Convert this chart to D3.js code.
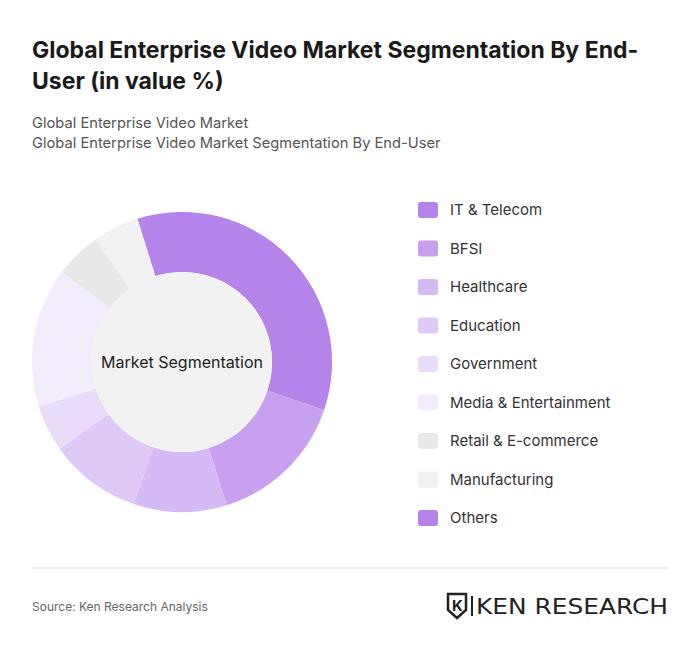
<!DOCTYPE html><html><head><meta charset="utf-8"><script src="https://cdn.jsdelivr.net/npm/d3@7"></script>
<style>body{margin:0;background:#fff;font-family:Inter,"Noto Sans",sans-serif}</style></head><body><svg id="c" width="700" height="653"></svg>
<script>
const categories=["IT & Telecom","BFSI","Healthcare","Education","Government","Media & Entertainment","Retail & E-commerce","Manufacturing","Others"];
const values=[35,15,10,10,5,15,5,5,0];
const colors=["#b584ea","#c7a0f0","#d5baf5","#dfcaf7","#e9dcfa","#f3ecfc","#e8e8e8","#f2f2f2","#b584ea"];
const svg=d3.select("#c");
svg.append("text").attr("x",32).attr("y",58).attr("font-size",23).attr("font-weight",700).attr("fill","#1a1a1a").text("Global Enterprise Video Market Segmentation By End-");
svg.append("text").attr("x",32).attr("y",89).attr("font-size",23).attr("font-weight",700).attr("fill","#1a1a1a").text("User (in value %)");
svg.append("text").attr("x",32).attr("y",128).attr("font-size",14.7).attr("fill","#555").text("Global Enterprise Video Market");
svg.append("text").attr("x",32).attr("y",148).attr("font-size",14.7).attr("fill","#555").text("Global Enterprise Video Market Segmentation By End-User");
const g=svg.append("g").attr("transform","translate(182,362)");
const pie=d3.pie().sort(null).startAngle(-17.3*Math.PI/180).endAngle(2*Math.PI-17.3*Math.PI/180);
const arc=d3.arc().innerRadius(90).outerRadius(150);
g.selectAll("path").data(pie(values)).join("path").attr("d",arc).attr("fill",(d,i)=>colors[i]);
g.append("circle").attr("r",90).attr("fill","#f2f2f2");
g.append("text").attr("text-anchor","middle").attr("dy",6).attr("font-size",16).attr("fill","#222").text("Market Segmentation");
const lg=svg.append("g");
categories.forEach((c,i)=>{const y=210+i*38.5;
lg.append("rect").attr("x",418).attr("y",y-8).attr("width",20).attr("height",16).attr("rx",3).attr("fill",colors[i]);
lg.append("text").attr("x",450).attr("y",y+5).attr("font-size",15).attr("fill","#333").text(c);});
svg.append("line").attr("x1",32).attr("x2",668).attr("y1",568).attr("y2",568).attr("stroke","#ddd");
svg.append("text").attr("x",32).attr("y",611).attr("font-size",12).attr("fill","#666").text("Source: Ken Research Analysis");
const lo=svg.append("g").attr("transform","translate(448,594)");
lo.append("path").attr("d","M0,0H18V16L9,24L0,16Z").attr("fill","none").attr("stroke","#222").attr("stroke-width",2.5);
lo.append("text").attr("x",4).attr("y",17).attr("font-size",15).attr("font-weight",700).attr("fill","#222").text("K");
lo.append("line").attr("x1",24).attr("x2",24).attr("y1",2).attr("y2",22).attr("stroke","#222").attr("stroke-width",2);
lo.append("text").attr("x",28).attr("y",20).attr("font-size",21).attr("fill","#222").attr("font-family","'DejaVu Sans',sans-serif").attr("textLength",192).attr("lengthAdjust","spacingAndGlyphs").text("KEN RESEARCH");
</script></body></html>
